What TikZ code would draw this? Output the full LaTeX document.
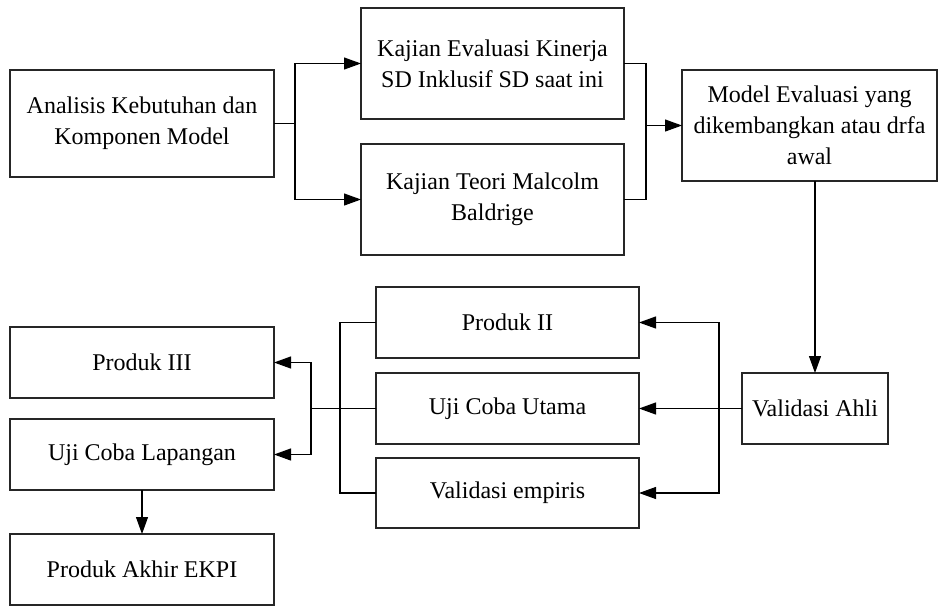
\documentclass[tikz,border=0pt]{standalone}
\usepackage{fontspec}
\setmainfont{Liberation Serif}
\usetikzlibrary{arrows.meta}

\tikzset{
  kotak/.style={draw=black!85, line width=1.2pt, rectangle, outer sep=0pt, align=center,
    inner sep=2pt, font=\fontsize{24}{31}\selectfont},
  lebar/.style={kotak, minimum width=263pt, minimum height=71pt},
  tinggi/.style={kotak, minimum width=263pt, minimum height=111pt},
  panah/.style={->, line width=1.1pt}
}

\begin{document}
\begin{tikzpicture}[x=1pt, y=-1pt, >={Triangle[length=17pt,width=12pt]}, line width=1.1pt]
  \useasboundingbox (0,0) rectangle (938,606);

  % 1. baris atas: analisis, kajian, model
  \node[kotak, minimum width=264pt, minimum height=107pt] (analisis) at (142,123.5) {Analisis Kebutuhan dan\\Komponen Model};
  \node[tinggi] (kajianEval) at (492.5,63.5) {Kajian Evaluasi Kinerja\\SD Inklusif SD saat ini};
  \node[tinggi] (kajianTeori) at (492.5,199.5) {Kajian Teori Malcolm\\Baldrige};
  \node[kotak, minimum width=255pt, minimum height=111pt] (model) at (809.5,125.5) {Model Evaluasi yang\\dikembangkan atau drfa\\awal};

  % 2. validasi dan produk
  \node[kotak, minimum width=146pt, minimum height=71pt] (validasiAhli) at (815,408.5) {Validasi Ahli};
  \node[lebar] (produkII) at (507.5,322.5) {Produk II};
  \node[lebar] (ujiUtama) at (507.5,408.5) {Uji Coba Utama};
  \node[lebar, minimum height=70pt] (validasiEmp) at (507.5,493) {Validasi empiris};

  % 3. kolom kiri bawah
  \node[lebar, minimum width=264pt] (produkIII) at (142,362.5) {Produk III};
  \node[lebar, minimum width=264pt] (ujiLapangan) at (142,454.5) {Uji Coba Lapangan};
  \node[lebar, minimum width=264pt] (produkAkhir) at (142,569.5) {Produk Akhir EKPI};

  % titik cabang
  \coordinate (c1) at (295,123.5);
  \coordinate (g1) at (646,125.5);
  \coordinate (c2) at (719,408.5);
  \coordinate (g2) at (340,408.5);
  \coordinate (c3) at (311,408.5);

  % 4. garis penghubung
  \draw (analisis.east) -- (c1);
  \draw[panah] (c1) |- (kajianEval.west);
  \draw[panah] (c1) |- (kajianTeori.west);

  \draw (kajianEval.east) -| (g1);
  \draw (kajianTeori.east) -| (g1);
  \draw[panah] (g1) -- (model.west);

  \draw[panah] (validasiAhli.north |- model.south) -- (validasiAhli.north);

  \draw (validasiAhli.west) -- (c2);
  \draw[panah] (c2) |- (produkII.east);
  \draw[panah] (c2) -- (ujiUtama.east);
  \draw[panah] (c2) |- (validasiEmp.east);

  \draw (produkII.west) -| (g2);
  \draw (validasiEmp.west) -| (g2);
  \draw (ujiUtama.west) -- (c3);
  \draw[panah] (c3) |- (produkIII.east);
  \draw[panah] (c3) |- (ujiLapangan.east);

  \draw[panah] (ujiLapangan) -- (produkAkhir);
\end{tikzpicture}
\end{document}
